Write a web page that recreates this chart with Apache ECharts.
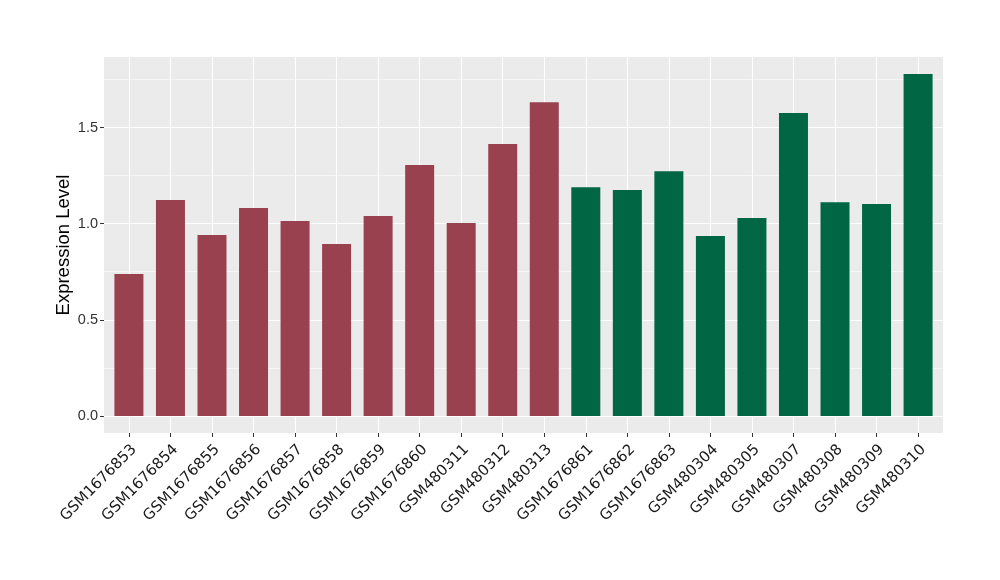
<!DOCTYPE html>
<html>
<head>
<meta charset="utf-8">
<script src="https://cdn.jsdelivr.net/npm/echarts@6/dist/echarts.min.js"></script>
<style>
html,body{margin:0;padding:0;background:#ffffff;}
#chart{width:1000px;height:580px;}
</style>
</head>
<body>
<div id="chart"></div>
<script>
var categories = ["GSM1676853","GSM1676854","GSM1676855","GSM1676856","GSM1676857","GSM1676858","GSM1676859","GSM1676860","GSM480311","GSM480312","GSM480313","GSM1676861","GSM1676862","GSM1676863","GSM480304","GSM480305","GSM480307","GSM480308","GSM480309","GSM480310"];
var groupAValues = [0.738,1.123,0.941,1.081,1.014,0.894,1.040,1.305,1.003,1.414,1.632];
var groupBValues = [1.190,1.175,1.273,0.936,1.029,1.575,1.112,1.102,1.778];
var yTicks = [0, 0.5, 1.0, 1.5];
var yMinorTicks = [0.25, 0.75, 1.25, 1.75];
var yMin = -0.0889, yMax = 1.8669;
var xMin = -0.6, xMax = categories.length - 1 + 0.6;

var xIdx = categories.map(function(c, i){ return i; });
var dataA = groupAValues.map(function(v, i){ return [i, v]; });
var dataB = groupBValues.map(function(v, i){ return [groupAValues.length + i, v]; });

var chart = echarts.init(document.getElementById('chart'), null, {renderer: 'canvas'});
chart.setOption({
  animation: false,
  backgroundColor: '#ffffff',
  grid: {left: 104, right: 57, top: 57, bottom: 147, show: true, backgroundColor: '#EBEBEB', borderWidth: 0},
  xAxis: {
    type: 'value', min: xMin, max: xMax, position: 'bottom',
    axisLine: {show: false, onZero: false},
    axisTick: {show: true, customValues: xIdx, length: 4, lineStyle: {color: '#333333', width: 1}},
    axisLabel: {
      customValues: xIdx, rotate: 45, margin: 9, verticalAlign: 'top', align: 'right',
      fontFamily: 'DejaVu Sans', fontSize: 15, color: '#1a1a1a',
      formatter: function(v){ return categories[Math.round(v)]; }
    },
    splitLine: {show: true, lineStyle: {color: '#ffffff', width: 1.1}}
  },
  yAxis: [{
    type: 'value', min: yMin, max: yMax, position: 'left',
    name: 'Expression Level', nameLocation: 'middle', nameGap: 31, nameMoveOverlap: false,
    nameTextStyle: {fontFamily: 'Liberation Sans', fontSize: 18.5, color: '#000000'},
    axisLine: {show: false, onZero: false},
    axisTick: {show: true, customValues: yTicks, length: 4, lineStyle: {color: '#333333', width: 1}},
    axisLabel: {
      customValues: yTicks, margin: 6,
      fontFamily: 'Liberation Sans', fontSize: 14.5, color: '#333333',
      formatter: function(v){ return v.toFixed(1); }
    },
    splitLine: {show: true, lineStyle: {color: '#ffffff', width: 1.1}}
  }, {
    type: 'value', min: yMin, max: yMax, position: 'left',
    axisLine: {show: false, onZero: false},
    axisTick: {show: false, customValues: yMinorTicks},
    axisLabel: {show: false, customValues: yMinorTicks},
    splitLine: {show: true, lineStyle: {color: '#ffffff', width: 0.55}}
  }],
  series: [{
    type: 'bar', name: 'A', data: dataA, barWidth: 29, barGap: '-100%',
    itemStyle: {color: '#9A4150'}, yAxisIndex: 0
  }, {
    type: 'bar', name: 'B', data: dataB, barWidth: 29, barGap: '-100%',
    itemStyle: {color: '#006644'}, yAxisIndex: 0
  }]
});
</script>
</body>
</html>
